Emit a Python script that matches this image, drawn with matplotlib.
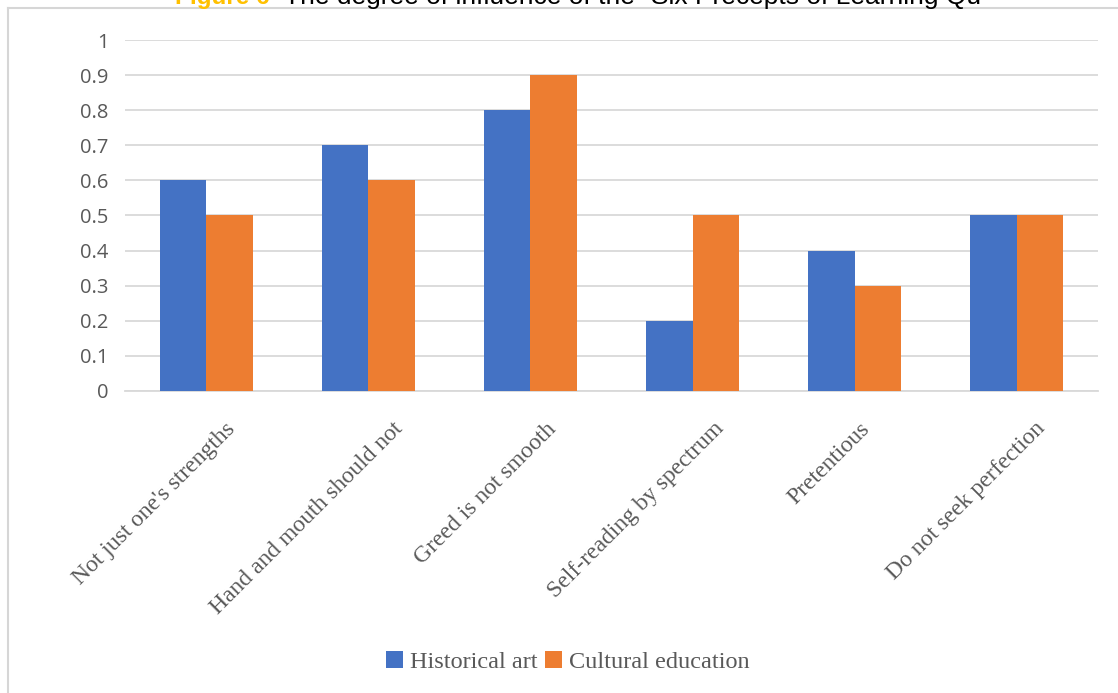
import matplotlib
matplotlib.use("Agg")
import matplotlib.pyplot as plt
import numpy as np
from matplotlib.lines import Line2D
from matplotlib.patches import Patch
from matplotlib.transforms import ScaledTranslation

categories = [
    "Not just one's strengths",
    "Hand and mouth should not",
    "Greed is not smooth",
    "Self-reading by spectrum",
    "Pretentious",
    "Do not seek perfection",
]
historical_art = [0.6, 0.7, 0.8, 0.2, 0.4, 0.5]
cultural_education = [0.5, 0.6, 0.9, 0.5, 0.3, 0.5]
series_names = ["Historical art", "Cultural education"]
yticks = [0, 0.1, 0.2, 0.3, 0.4, 0.5, 0.6, 0.7, 0.8, 0.9, 1]
ytick_labels = ["0", "0.1", "0.2", "0.3", "0.4", "0.5", "0.6", "0.7", "0.8", "0.9", "1"]

BLUE = "#4472C4"
ORANGE = "#ED7D31"
GRID = "#D9D9D9"
TEXT = "#595959"

W, H = 1118, 693
fig = plt.figure(figsize=(W / 100, H / 100), dpi=100)
fig.patch.set_facecolor("white")

def px(x, y):
    return x / W, 1 - y / H

left, top = px(125, 40)
right, bottom = px(1098, 391)
ax = fig.add_axes([left, bottom, right - left, top - bottom])

x = np.arange(len(categories))
bw = 0.287
ax.bar(x - bw / 2, historical_art, width=bw, color=BLUE, zorder=3)
ax.bar(x + bw / 2, cultural_education, width=bw, color=ORANGE, zorder=3)

ax.set_xlim(-0.5, len(categories) - 0.5)
ax.set_ylim(0, 1)
ax.set_yticks(yticks)
ax.set_yticklabels(ytick_labels, family="Open Sans", fontsize=14.5, color=TEXT)
ax.yaxis.grid(True, color=GRID, linewidth=1.3, zorder=0)
ax.set_axisbelow(True)
for s in ["top", "right", "left"]:
    ax.spines[s].set_visible(False)
ax.spines["bottom"].set_color(GRID)
ax.spines["bottom"].set_linewidth(1.3)
ax.tick_params(axis="y", length=0, pad=12)
ax.tick_params(axis="x", length=0, pad=25)

ax.set_xticks(x)
ax.set_xticklabels(categories, rotation=45, ha="right", va="center",
                   rotation_mode="anchor", family="Liberation Serif",
                   fontsize=17, color=TEXT)

# rotated labels sit a little right of the category centre, more so for long ones
renderer = fig.canvas.get_renderer()
for lab in ax.get_xticklabels():
    w = lab.get_window_extent(renderer).width
    dx = 0.17 * w - 3
    lab.set_transform(lab.get_transform() + ScaledTranslation(dx / 100, 0, fig.dpi_scale_trans))

handles = [Patch(facecolor=BLUE), Patch(facecolor=ORANGE)]
fig.legend(handles, series_names, loc="center", bbox_to_anchor=px(568, 662),
           ncol=2, frameon=False, handlelength=0.7, handleheight=0.7,
           handletextpad=0.3, columnspacing=0.3,
           prop={"family": "Liberation Serif", "size": 17.5}, labelcolor=TEXT)

# chart frame
fig.add_artist(Line2D([px(8, 0)[0], px(8, 0)[0]], [px(0, 8)[1], 0],
                      color="#D6D6D6", linewidth=1.5))
fig.add_artist(Line2D([px(8, 0)[0], 1], [px(0, 8)[1], px(0, 8)[1]],
                      color="#D6D6D6", linewidth=1.5))

# caption above the chart
tx, ty = px(175, 4)
fig.text(tx, ty, "Figure 6", family="Liberation Sans", fontweight="bold",
         fontsize=17.5, color="#FFC000", va="baseline", ha="left")
tx2, _ = px(284, 4)
fig.text(tx2, ty, "The degree of influence of the \u201cSix Precepts of Learning Qu\u201d",
         family="Liberation Sans", fontsize=19, color="black", va="baseline", ha="left")

fig.savefig("out.png", dpi=100, facecolor="white")
